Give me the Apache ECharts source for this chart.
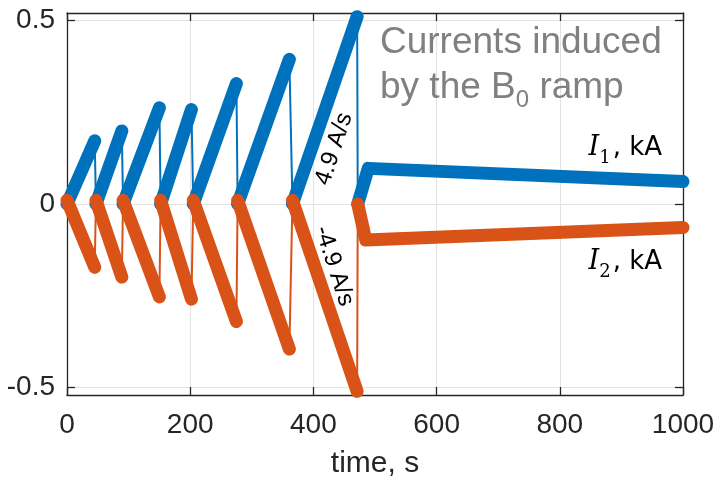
<!DOCTYPE html>
<html>
<head>
<meta charset="utf-8">
<script src="https://cdn.jsdelivr.net/npm/echarts@6/dist/echarts.min.js"></script>
<style>
  html, body { margin: 0; padding: 0; background: #fff; }
  #chart { width: 720px; height: 478px; }
</style>
</head>
<body>
<div id="chart"></div>
<script>
// Seven B0 ramps: start / end time (s) and coil currents (kA) at those instants
const rampStartTime = [0, 47, 91, 152, 205, 277, 366];
const rampEndTime   = [45, 89, 150, 202, 275, 361, 471];
const i1AtRampStart = [0, 0, 0, 0, 0, 0, 0];
const i1AtRampEnd   = [0.172, 0.199, 0.262, 0.257, 0.328, 0.394, 0.51];
const i2AtRampStart = [0.01, 0.01, 0.01, 0.01, 0.01, 0.01, 0.01];
const i2AtRampEnd   = [-0.172, -0.199, -0.253, -0.259, -0.32, -0.395, -0.51];

// Relaxation after the last ramp
const i1DecayTime = [472, 489, 1000];
const i1Decay     = [0, 0.097, 0.061];
const i2DecayTime = [472, 485, 1000];
const i2Decay     = [0, -0.098, -0.064];

// Axis ticks
const xTicks = [0, 200, 400, 600, 800, 1000];
const yTicks = [-0.5, 0, 0.5];

const BLUE = '#0072BD';
const ORANGE = '#D95319';
const AXIS = '#262626';
const GRIDC = '#e2e2e2';

// Full trace (thin line, includes the fast drops between ramps)
function fullTrace(startV, endV, decT, decV) {
  const pts = [];
  for (let k = 0; k < rampStartTime.length; k++) {
    pts.push([rampStartTime[k], startV[k]]);
    pts.push([rampEndTime[k], endV[k]]);
  }
  for (let k = 0; k < decT.length; k++) pts.push([decT[k], decV[k]]);
  return pts;
}
// Densely sampled parts (thick): each ramp and the decay, separated by gaps
function sampledParts(startV, endV, decT, decV) {
  const pts = [];
  for (let k = 0; k < rampStartTime.length; k++) {
    pts.push([rampStartTime[k], startV[k]]);
    pts.push([rampEndTime[k], endV[k]]);
    pts.push([rampEndTime[k], null]);
  }
  for (let k = 0; k < decT.length; k++) pts.push([decT[k], decV[k]]);
  return pts;
}

const chart = echarts.init(document.getElementById('chart'), null, { renderer: 'canvas' });

const axisLineStyle = { color: AXIS, width: 1.3 };
const FONT = 'Liberation Sans, Arial, sans-serif';
const LABEL_SANS = 'DejaVu Sans, sans-serif';
const LABEL_SERIF = 'DejaVu Serif, serif';

function thin(data, color, z) {
  return {
    type: 'line', data: data, showSymbol: false, symbol: 'none', clip: false,
    lineStyle: { color: color, width: 2 }, itemStyle: { color: color },
    z: z, silent: true, animation: false
  };
}
function thick(data, color, z) {
  return {
    type: 'line', data: data, showSymbol: false, symbol: 'none', clip: false,
    connectNulls: false,
    lineStyle: { color: color, width: 13, cap: 'round', join: 'round' },
    itemStyle: { color: color },
    z: z, silent: true, animation: false
  };
}
function currentLabel(sub, y) {
  return {
    type: 'text', x: 662, y: y, z: 20, silent: true,
    style: {
      text: '{i|I}{s|' + sub + '}{k|, kA}',
      rich: {
        i: { fontSize: 27, fontFamily: LABEL_SERIF, fontStyle: 'italic', fill: '#000', lineHeight: 34 },
        s: { fontSize: 18, fontFamily: LABEL_SERIF, fill: '#000', lineHeight: 10, padding: [21, 2, 0, 0] },
        k: { fontSize: 26, fontFamily: LABEL_SANS, fill: '#000', lineHeight: 34 }
      },
      textAlign: 'right', textVerticalAlign: 'top', align: 'right', verticalAlign: 'top'
    }
  };
}

chart.setOption({
  animation: false,
  grid: { left: 67, right: 37, top: 13, bottom: 83, containLabel: false, outerBoundsMode: 'none' },
  xAxis: [
    {
      type: 'value', position: 'bottom', min: 0, max: 1000, interval: 200,
      axisLine: { show: true, onZero: false, lineStyle: axisLineStyle },
      axisTick: { show: true, inside: true, length: 8, lineStyle: axisLineStyle },
      axisLabel: { fontSize: 28, color: AXIS, margin: 16, fontFamily: FONT, formatter: v => String(v) },
      splitLine: { show: true, lineStyle: { color: GRIDC, width: 1 } },
      name: 'time, s', nameLocation: 'middle', nameGap: 54,
      nameTextStyle: { fontSize: 30, color: AXIS, fontFamily: FONT }
    },
    {
      type: 'value', position: 'top', min: 0, max: 1000, interval: 200,
      axisLine: { show: true, onZero: false, lineStyle: axisLineStyle },
      axisTick: { show: true, inside: true, length: 8, lineStyle: axisLineStyle },
      axisLabel: { show: false },
      splitLine: { show: false }
    }
  ],
  yAxis: [
    {
      type: 'value', position: 'left', min: -0.52, max: 0.52,
      axisLine: { show: true, onZero: false, lineStyle: axisLineStyle },
      axisTick: { show: true, inside: true, length: 8, lineStyle: axisLineStyle, customValues: yTicks },
      axisLabel: { fontSize: 28, color: AXIS, margin: 12, fontFamily: FONT, customValues: yTicks, formatter: v => String(v) },
      splitLine: { show: true, lineStyle: { color: GRIDC, width: 1 } }
    },
    {
      type: 'value', position: 'right', min: -0.52, max: 0.52,
      axisLine: { show: true, onZero: false, lineStyle: axisLineStyle },
      axisTick: { show: true, inside: true, length: 8, lineStyle: axisLineStyle, customValues: yTicks },
      axisLabel: { show: false },
      splitLine: { show: false }
    }
  ],
  series: [
    thin(fullTrace(i1AtRampStart, i1AtRampEnd, i1DecayTime, i1Decay), BLUE, 3),
    thick(sampledParts(i1AtRampStart, i1AtRampEnd, i1DecayTime, i1Decay), BLUE, 4),
    thin(fullTrace(i2AtRampStart, i2AtRampEnd, i2DecayTime, i2Decay), ORANGE, 5),
    thick(sampledParts(i2AtRampStart, i2AtRampEnd, i2DecayTime, i2Decay), ORANGE, 6)
  ],
  graphic: [
    {
      type: 'text', x: 380, y: 20, z: 20, silent: true,
      style: {
        text: '{a|Currents induced}\n{a|by the B}{s|0}{a| ramp}',
        rich: {
          a: { fontSize: 37, fontFamily: FONT, fill: '#808080', lineHeight: 45 },
          s: { fontSize: 24, fontFamily: FONT, fill: '#808080', lineHeight: 18, padding: [25, 0, 0, 0] }
        },
        textAlign: 'left', textVerticalAlign: 'top', align: 'left', verticalAlign: 'top'
      }
    },
    currentLabel('1', 131),
    currentLabel('2', 245),
    {
      type: 'text', x: 334, y: 149, rotation: 72 * Math.PI / 180, z: 20, silent: true,
      style: {
        text: '4.9 A/s', font: '24px ' + FONT, fill: '#000',
        textAlign: 'center', textVerticalAlign: 'middle', align: 'center', verticalAlign: 'middle'
      }
    },
    {
      type: 'text', x: 334, y: 266, rotation: -72 * Math.PI / 180, z: 20, silent: true,
      style: {
        text: '-4.9 A/s', font: '24px ' + FONT, fill: '#000',
        textAlign: 'center', textVerticalAlign: 'middle', align: 'center', verticalAlign: 'middle'
      }
    }
  ]
});
</script>
</body>
</html>
